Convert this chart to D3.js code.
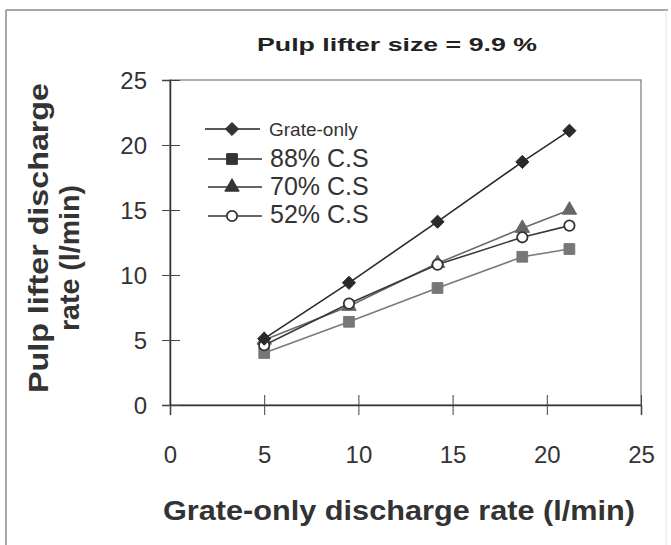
<!DOCTYPE html>
<html><head><meta charset="utf-8">
<script src="https://cdn.jsdelivr.net/npm/d3@7"></script>
<style>body{margin:0;background:#fff;} svg{display:block;}</style>
</head><body>
<script>
const xValues = [5.0, 9.5, 14.2, 18.7, 21.2];
const grateOnly = [5.1, 9.4, 14.1, 18.7, 21.1];
const cs88 = [4.0, 6.4, 9.0, 11.4, 12.0];
const cs70 = [5.0, 7.6, 10.9, 13.6, 15.0];
const cs52 = [4.6, 7.8, 10.8, 12.9, 13.8];
const seriesNames = ["Grate-only", "88% C.S", "70% C.S", "52% C.S"];
const xTicks = [0, 5, 10, 15, 20, 25];
const yTicks = [0, 5, 10, 15, 20, 25];
const titleText = "Pulp lifter size = 9.9 %";
const xLabel = "Grate-only discharge rate (l/min)";
const yLabel = ["Pulp lifter discharge", "rate (l/min)"];

const W = 671, H = 545;
const svg = d3.select("body").append("svg").attr("width", W).attr("height", H);
const font = "Liberation Sans, Arial, Helvetica, sans-serif";

// outer frame
svg.append("line").attr("x1",6).attr("x2",668).attr("y1",10).attr("y2",10).attr("stroke","#888").attr("stroke-width",1.5);
svg.append("line").attr("x1",6).attr("x2",6).attr("y1",10).attr("y2",545).attr("stroke","#888").attr("stroke-width",1.5);
svg.append("line").attr("x1",666).attr("x2",666).attr("y1",10).attr("y2",545).attr("stroke","#e4e4e4").attr("stroke-width",1);

const L = 170, R = 641, T = 80, B = 405;
const x = d3.scaleLinear().domain([0,25]).range([L,R]);
const y = d3.scaleLinear().domain([0,25]).range([B,T]);

// plot box
svg.append("rect").attr("x",L).attr("y",T).attr("width",R-L).attr("height",B-T)
  .attr("fill","none").attr("stroke","#777").attr("stroke-width",1.2);

// axes
const xAxis = svg.append("g").attr("transform",`translate(0,${B})`)
  .call(d3.axisBottom(x).tickValues(xTicks).tickSize(10).tickPadding(37).tickFormat(d3.format("d")));
const yAxis = svg.append("g").attr("transform",`translate(${L},0)`)
  .call(d3.axisLeft(y).tickValues(yTicks).tickSize(8).tickPadding(15).tickFormat(d3.format("d")));
[xAxis,yAxis].forEach(a=>{
  a.select(".domain").attr("stroke","#333").attr("stroke-width",1.5);
  a.selectAll(".tick line").attr("stroke","#444").attr("stroke-width",1);
  a.selectAll(".tick text").attr("font-family",font).attr("font-size",24).attr("fill","#333");
});
// cross ticks (inner part)
xAxis.selectAll(".tick").append("line").attr("y1",0).attr("y2",-10).attr("stroke","#444");
yAxis.selectAll(".tick").append("line").attr("x1",0).attr("x2",10).attr("stroke","#444");
xAxis.selectAll(".tick text").attr("dy","0.45em");
yAxis.selectAll(".tick text").attr("dy","0.36em");

// series
const series = [
  {name: seriesNames[0], vals: grateOnly, line:"#2a2a2a", fill:"#2a2a2a", stroke:"#2a2a2a", shape:"diamond"},
  {name: seriesNames[1], vals: cs88, line:"#7a7a7a", fill:"#777", stroke:"#777", shape:"square"},
  {name: seriesNames[2], vals: cs70, line:"#6a6a6a", fill:"#666", stroke:"#666", shape:"triangle"},
  {name: seriesNames[3], vals: cs52, line:"#3a3a3a", fill:"#fff", stroke:"#333", shape:"circle"}
];
const sym = {
  diamond: d3.symbol().type(d3.symbolDiamond2).size(110),
  square: d3.symbol().type(d3.symbolSquare).size(115),
  triangle: d3.symbol().type(d3.symbolTriangle).size(90),
  circle: d3.symbol().type(d3.symbolCircle).size(85)
};
const lineGen = d3.line().x(d=>x(d[0])).y(d=>y(d[1]));
[1,2,3,0].forEach(i=>{
  const s = series[i];
  const pts = xValues.map((xv,j)=>[xv, s.vals[j]]);
  svg.append("path").attr("d", lineGen(pts)).attr("fill","none").attr("stroke",s.line).attr("stroke-width",1.6);
  svg.selectAll(null).data(pts).enter().append("path")
    .attr("d", sym[s.shape]())
    .attr("transform", d=>`translate(${x(d[0])},${y(d[1])})`)
    .attr("fill", s.fill).attr("stroke", s.stroke).attr("stroke-width", s.shape==="circle"?1.8:1);
});

// legend
const legRows = [129, 159, 187, 216];
const legText = [{size:19, base:136},{size:25,base:167},{size:25,base:195},{size:25,base:223}];
series.forEach((s,i)=>{
  const g = svg.append("g");
  const x1 = i===0?205:208, x2 = i===0?260:262;
  g.append("line").attr("x1",x1).attr("x2",x2).attr("y1",legRows[i]).attr("y2",legRows[i])
    .attr("stroke", i===0?"#222":"#333").attr("stroke-width",1.6);
  g.append("path").attr("d", sym[s.shape]()).attr("transform",`translate(232,${legRows[i]})`)
    .attr("fill", s.shape==="circle"?"#fff":"#333").attr("stroke","#333").attr("stroke-width", s.shape==="circle"?1.8:1);
  g.append("text").attr("x", i===0?269:270).attr("y", legText[i].base)
    .attr("font-family",font).attr("font-size",legText[i].size).attr("fill","#333").text(s.name);
});

// title
svg.append("text").attr("x",397).attr("y",51).attr("text-anchor","middle")
  .attr("font-family",font).attr("font-weight","bold").attr("font-size",19).attr("fill","#222")
  .attr("textLength",280).attr("lengthAdjust","spacingAndGlyphs").text(titleText);

// x label
svg.append("text").attr("x",399).attr("y",520).attr("text-anchor","middle")
  .attr("font-family",font).attr("font-weight","bold").attr("font-size",28).attr("fill","#333")
  .attr("textLength",472).attr("lengthAdjust","spacingAndGlyphs").text(xLabel);

// y label
const yl = svg.append("text").attr("transform","translate(0,0) rotate(-90)")
  .attr("font-family",font).attr("font-weight","bold").attr("font-size",27).attr("fill","#333").attr("text-anchor","middle");
yl.append("tspan").attr("x",-238).attr("y",48).attr("textLength",310).attr("lengthAdjust","spacingAndGlyphs").text(yLabel[0]);
yl.append("tspan").attr("x",-258).attr("y",79).attr("textLength",146).attr("lengthAdjust","spacingAndGlyphs").text(yLabel[1]);
</script>
</body></html>
